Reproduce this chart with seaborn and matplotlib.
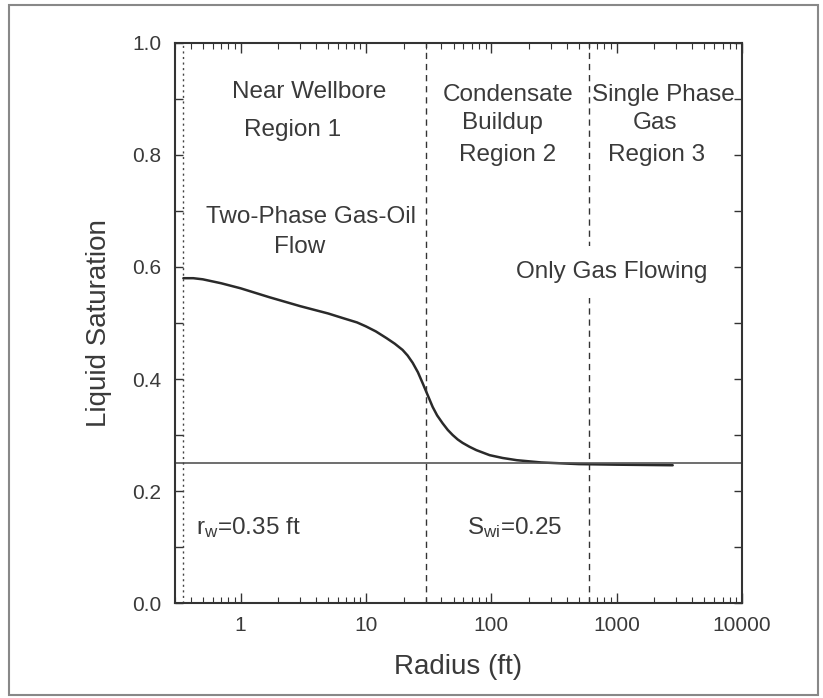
import numpy as np
import pandas as pd
import matplotlib
matplotlib.use('Agg')
import matplotlib.pyplot as plt
import seaborn as sns
from matplotlib.patches import Rectangle
from matplotlib.ticker import FixedLocator, NullFormatter, LogLocator

# --- data ---
radius_ft = [0.35, 0.42, 0.5, 0.7, 1.0, 1.7, 3.0, 5.0, 6.5, 8.5, 10, 12, 14.6,
             17, 19.6, 21.5, 23.6, 26, 28.3, 31, 34.1, 37, 40.9, 45, 49.2,
             54, 59, 67, 76, 97, 123, 160, 250, 500, 1000, 2800]
liquid_sat = [0.580, 0.580, 0.578, 0.571, 0.562, 0.546, 0.530, 0.517, 0.509,
              0.501, 0.494, 0.485, 0.473, 0.463, 0.452, 0.442, 0.429, 0.412,
              0.393, 0.372, 0.350, 0.335, 0.321, 0.309, 0.300, 0.292, 0.286,
              0.279, 0.273, 0.264, 0.259, 0.255, 0.251, 0.248, 0.247, 0.246]
swi = 0.25
rw = 0.35
region_bounds = [30, 600]

region_labels = [
    ("Near Wellbore", 0.236, 0.912), ("Region 1", 0.208, 0.845),
    ("Two-Phase Gas-Oil", 0.240, 0.689), ("Flow", 0.220, 0.636),
    ("Condensate", 0.587, 0.907), ("Buildup", 0.577, 0.857), ("Region 2", 0.587, 0.800),
    ("Single Phase", 0.861, 0.907), ("Gas", 0.847, 0.857), ("Region 3", 0.850, 0.800),
    (r"$\mathregular{r_w}$=0.35 ft", 0.129, 0.134),
    (r"$\mathregular{S_{wi}}$=0.25", 0.600, 0.134),
]
flow_note = ("Only Gas Flowing", 0.771, 0.591)

df = pd.DataFrame({'Radius (ft)': radius_ft, 'Liquid Saturation': liquid_sat})

# --- style ---
sns.set_style('ticks')
plt.rcParams['font.family'] = ['Liberation Sans', 'DejaVu Sans']
plt.rcParams['mathtext.default'] = 'regular'
ink = '#333333'

fig = plt.figure(figsize=(8.23, 6.98), dpi=100)
ax = fig.add_axes([0.2126, 0.1361, 0.6890, 0.8023])

sns.lineplot(data=df, x='Radius (ft)', y='Liquid Saturation', ax=ax,
             color='#2a2a2a', linewidth=1.8)
ax.set_xscale('log')
ax.axhline(swi, color='#555555', linewidth=1.2)
ax.axvline(rw, color='#444444', linewidth=1.0, linestyle=(0, (1.5, 2.5)))
for xb in region_bounds:
    ax.axvline(xb, color='#333333', linewidth=1.0, linestyle=(0, (4.5, 3.5)))

ax.set_xlim(0.3, 10000)
ax.set_ylim(0, 1.0)

# ticks
ax.xaxis.set_major_locator(LogLocator(base=10, numticks=10))
ax.xaxis.set_minor_locator(LogLocator(base=10, subs=np.arange(2, 10), numticks=20))
ax.xaxis.set_minor_formatter(NullFormatter())
ax.set_xticks([1, 10, 100, 1000, 10000])
ax.set_xticklabels(['1', '10', '100', '1000', '10000'])
ax.set_yticks([0, 0.2, 0.4, 0.6, 0.8, 1.0])
ax.set_yticklabels(['0.0', '0.2', '0.4', '0.6', '0.8', '1.0'])
ax.yaxis.set_minor_locator(FixedLocator(np.arange(0.1, 1.0, 0.2)))
ax.tick_params(which='both', direction='in', top=True, right=True,
               color=ink, labelcolor='#3a3a3a')
ax.tick_params(axis='x', which='major', length=7, width=1, labelsize=15, pad=9)
ax.tick_params(axis='x', which='minor', length=4, width=0.8)
ax.tick_params(axis='y', which='major', length=6, width=1, labelsize=15, pad=10)
ax.tick_params(axis='y', which='minor', length=6, width=1)

for s in ax.spines.values():
    s.set_color(ink)
    s.set_linewidth(1.5)

ax.set_xlabel('Radius (ft)', fontsize=20, color='#3a3a3a', labelpad=14)
ax.set_ylabel('Liquid Saturation', fontsize=20, color='#3a3a3a', labelpad=14)

for txt, fx, fy in region_labels:
    ax.text(fx, fy, txt, transform=ax.transAxes, ha='center', va='center',
            fontsize=17.5, color='#3a3a3a')
ax.text(flow_note[1], flow_note[2], flow_note[0], transform=ax.transAxes,
        ha='center', va='center', fontsize=17.5, color='#3a3a3a', zorder=5,
        bbox=dict(boxstyle='square,pad=0.6', fc='white', ec='none'))

# outer frame of the picture
fig.patches.append(Rectangle((0.011, 0.005), 0.983, 0.988, transform=fig.transFigure,
                             fill=False, edgecolor='#888888', linewidth=1.5))

fig.savefig('out.png', dpi=100)
